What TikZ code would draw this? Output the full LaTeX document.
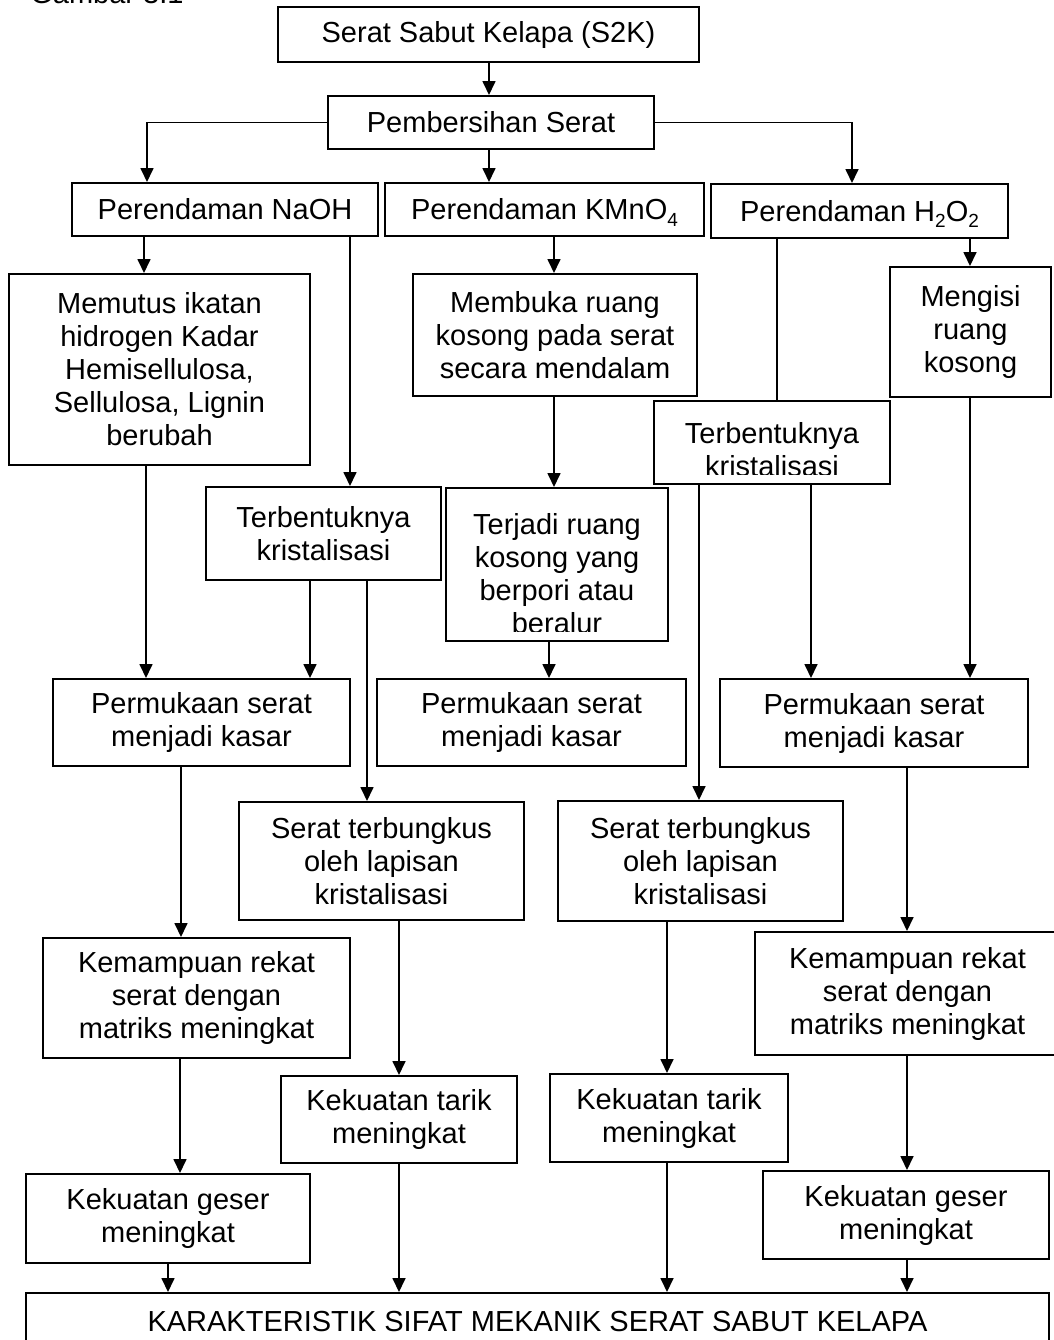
\documentclass[tikz,border=0pt]{standalone}
\usepackage{fontspec}
\setmainfont{Liberation Sans}
\usetikzlibrary{arrows.meta}
\newcommand\bx[6]{\node[box,minimum width={(#4-#2)*0.5pt},minimum height={(#5-#3)*0.5pt}] (#1) at ({(#2+#4)/2},{(#3+#5)/2}) {#6};}
\newcommand\vl[4]{\draw[#1] (#2.south -| #4,0) -- (#3.north -| #4,0);}
\newcommand\sbs[1]{\raisebox{-0.22em}[0pt][0pt]{\fontsize{9.5pt}{10pt}\selectfont #1}}
\begin{document}
\begin{tikzpicture}[x=0.5pt,y=-0.5pt,
  box/.style={draw,line width=1pt,inner sep=0pt,align=center,font=\fontsize{14.5pt}{16.5pt}\selectfont},
  txt/.style={inner sep=0pt,align=center,font=\fontsize{14.5pt}{16.5pt}\selectfont},
  arr/.style={line width=0.85pt,-{Triangle[width=6.5pt,length=7pt]}},
  ln/.style={line width=0.85pt}]
\useasboundingbox (0,0) rectangle (1054,1340);
\node[txt,anchor=base west] (cap) at (30,3) {Gambar 3.1};
% boxes
\bx{s2k}{278}{7}{699}{62}{Serat Sabut Kelapa (S2K)}
\bx{bersih}{328}{96}{654}{149}{Pembersihan Serat}
\bx{naoh}{72}{183}{378}{236}{Perendaman NaOH}
\bx{kmno}{385}{183}{704}{236}{Perendaman KMnO\sbs{4}}
\bx{hoo}{711}{184}{1008}{238}{Perendaman H\sbs{2}O\sbs{2}}
\bx{mem}{9}{274}{310}{465}{Memutus ikatan\\hidrogen Kadar\\Hemisellulosa,\\Sellulosa, Lignin\\berubah}
\bx{buka}{413}{274}{697}{396}{Membuka ruang\\kosong pada serat\\secara mendalam}
\bx{isi}{890}{267}{1051}{397}{Mengisi\\ruang\\kosong}
\bx{trbR}{654}{401}{890}{484}{}
\begin{scope}
\clip (trbR.north west) rectangle ([yshift=5.5pt]trbR.south east);
\node[txt] (trbRt) at (772,450) {Terbentuknya\\kristalisasi};
\end{scope}
\bx{trbL}{206}{487}{441}{580}{Terbentuknya\\kristalisasi}
\bx{terjadi}{446}{488}{668}{641}{}
\begin{scope}
\clip (terjadi.north west) rectangle ([yshift=5.5pt]terjadi.south east);
\node[txt] (terjadit) at (557,574) {Terjadi ruang\\kosong yang\\berpori atau\\beralur};
\end{scope}
\bx{permL}{53}{679}{350}{766}{Permukaan serat\\menjadi kasar}
\bx{permM}{377}{679}{686}{766}{Permukaan serat\\menjadi kasar}
\bx{permR}{720}{679}{1028}{767}{Permukaan serat\\menjadi kasar}
\bx{stL}{239}{802}{524}{920}{Serat terbungkus\\oleh lapisan\\kristalisasi}
\bx{stR}{558}{801}{843}{921}{Serat terbungkus\\oleh lapisan\\kristalisasi}
\bx{kemL}{43}{938}{350}{1058}{Kemampuan rekat\\serat dengan\\matriks meningkat}
\bx{kemR}{755}{932}{1060}{1055}{Kemampuan rekat\\serat dengan\\matriks meningkat}
\bx{tarL}{281}{1076}{517}{1163}{Kekuatan tarik\\meningkat}
\bx{tarR}{550}{1074}{788}{1162}{Kekuatan tarik\\meningkat}
\bx{gesL}{26}{1174}{310}{1263}{Kekuatan geser\\meningkat}
\bx{gesR}{763}{1171}{1049}{1259}{Kekuatan geser\\meningkat}
\bx{kar}{26}{1293}{1049}{1350}{KARAKTERISTIK SIFAT MEKANIK SERAT SABUT KELAPA}
% connectors
\vl{arr}{s2k}{bersih}{489}
\draw[arr] (bersih.west) -| (naoh.north -| 147,0);
\vl{arr}{bersih}{kmno}{489}
\draw[arr] (bersih.east) -| (hoo.north -| 852,0);
\vl{arr}{naoh}{mem}{144}
\vl{arr}{naoh}{trbL}{350}
\vl{arr}{kmno}{buka}{554}
\vl{arr}{buka}{terjadi}{554}
\vl{ln}{hoo}{trbR}{777}
\vl{arr}{hoo}{isi}{970}
\vl{arr}{mem}{permL}{146}
\vl{arr}{trbL}{permL}{310}
\vl{arr}{trbL}{stL}{367}
\vl{arr}{terjadi}{permM}{549}
\vl{arr}{trbR}{stR}{699}
\vl{arr}{trbR}{permR}{811}
\vl{arr}{isi}{permR}{970}
\vl{arr}{permL}{kemL}{181}
\vl{arr}{stL}{tarL}{399}
\vl{arr}{stR}{tarR}{667}
\vl{arr}{permR}{kemR}{907}
\vl{arr}{kemL}{gesL}{180}
\vl{arr}{kemR}{gesR}{907}
\vl{arr}{gesL}{kar}{168}
\vl{arr}{tarL}{kar}{399}
\vl{arr}{tarR}{kar}{667}
\vl{arr}{gesR}{kar}{907}
\end{tikzpicture}
\end{document}
